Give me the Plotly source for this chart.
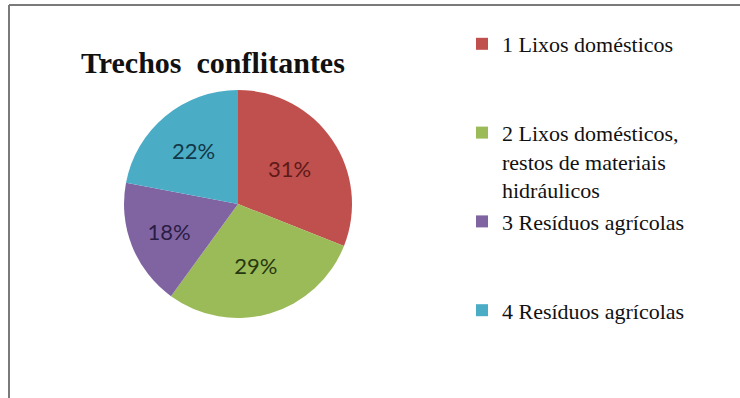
import plotly.graph_objects as go

# Data
labels = [
    "1 Lixos domésticos",
    "2 Lixos domésticos, restos de materiais hidráulicos",
    "3 Resíduos agrícolas",
    "4 Resíduos agrícolas",
]
legend_labels = [
    "1 Lixos domésticos<br>\u00a0<br>\u00a0",
    "2 Lixos domésticos,<br>restos de materiais<br>hidráulicos",
    "3 Resíduos agrícolas<br>\u00a0<br>\u00a0",
    "4 Resíduos agrícolas",
]
values = [31, 29, 18, 22]
colors = ["#C0504D", "#9BBB59", "#8064A2", "#4BACC6"]
text_colors = ["#5e1a18", "#27380f", "#2b1d44", "#123848"]
title_text = "Trechos  conflitantes"

W, H = 740, 398

fig = go.Figure()
fig.add_trace(go.Pie(
    labels=legend_labels,
    values=values,
    sort=False,
    direction="clockwise",
    rotation=0,
    marker=dict(colors=colors, line=dict(width=0)),
    textinfo="percent",
    textposition="inside",
    insidetextorientation="horizontal",
    textfont=dict(family="Lato", size=22, color=text_colors),
    domain=dict(x=[(238 - 118) / W, (238 + 118) / W], y=[1 - 318 / H, 1 - 90 / H]),
    hoverinfo="label+percent",
))

fig.update_layout(
    width=W, height=H,
    margin=dict(l=0, r=0, t=0, b=0),
    paper_bgcolor="white",
    plot_bgcolor="white",
    title=dict(
        text="<b>" + title_text + "</b>",
        x=81 / W, xref="paper", xanchor="left",
        y=1 - 62 / H, yref="paper", yanchor="middle",
        font=dict(family="Liberation Serif", size=30, color="#111111"),
    ),
    legend=dict(
        x=462 / W, xanchor="left",
        y=1 - 23 / H, yanchor="top",
        valign="top",
        font=dict(family="Liberation Serif", size=22, color="#111111"),
        bgcolor="rgba(0,0,0,0)",
        tracegroupgap=0,
    ),
    shapes=[
        dict(type="line", xref="paper", yref="paper",
             x0=9 / W, x1=1.0, y0=1 - 5 / H, y1=1 - 5 / H,
             line=dict(color="#7a7a7a", width=2), layer="above"),
        dict(type="line", xref="paper", yref="paper",
             x0=9 / W, x1=9 / W, y0=-0.02, y1=1 - 5 / H,
             line=dict(color="#7a7a7a", width=2), layer="above"),
    ],
)

fig.write_html("out.html")
